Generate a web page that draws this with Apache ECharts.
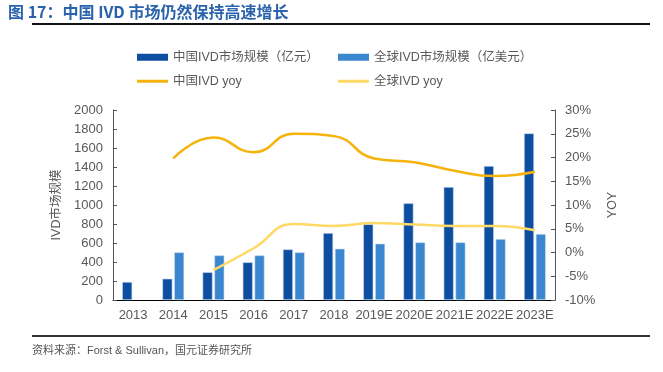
<!DOCTYPE html>
<html><head><meta charset="utf-8">
<script src="https://cdn.jsdelivr.net/npm/echarts@6/dist/echarts.min.js"></script>
<style>html,body{margin:0;padding:0;background:#fff}#c{width:663px;height:372px}</style>
</head><body><div id="c"></div>
<script>
const categories = ['2013','2014','2015','2016','2017','2018','2019E','2020E','2021E','2022E','2023E'];
const chinaMarket = [190, 224, 292, 397, 533, 705, 797, 1018, 1189, 1410, 1754];
const globalMarket = [null, 502, 470, 470, 502, 540, 593, 607, 607, 642, 695];
const chinaYoy = [null, 19.8, 24.2, 21.1, 25.0, 24.5, 19.8, 19.0, 17.2, 16.1, 17.0];
const globalYoy = [null, null, -3.7, 0.9, 6.0, 5.6, 6.2, 5.9, 5.6, 5.6, 4.7];
const leftTicks = [0, 2000, 200];
const rightTicks = [-10, 30, 5];

const FONT = '"Liberation Sans","Noto Sans CJK SC",sans-serif';
const GRAY = '#595959';
const names = ['中国IVD市场规模（亿元）','全球IVD市场规模（亿美元）','中国IVD yoy','全球IVD yoy'];
const C_DARK = '#0d4ea0', C_MID = '#3a87cf', C_LINE1 = '#f5b30c', C_LINE2 = '#ffd966';

function lg(name, left, top, isLine){
  return {data:[name], left:left, top:top, itemWidth:31, itemHeight: isLine?3:7, icon:'rect',
    itemStyle:{borderWidth:0}, textStyle:{fontFamily:FONT, fontSize:12.5, color:GRAY}, itemGap:0, padding:0};
}
const chart = echarts.init(document.getElementById('c'), null, {renderer:'canvas'});
chart.setOption({
  animation:false,
  textStyle:{fontFamily:FONT},
  legend:[lg(names[0],137,51,false), lg(names[1],338,51,false), lg(names[2],137,75,true), lg(names[3],338,75,true)],
  grid:{left:113, right:108, top:110, bottom:72},
  xAxis:{type:'category', data:categories,
    axisLine:{lineStyle:{color:'#000', width:1}},
    axisTick:{inside:true, length:4, lineStyle:{color:'#000'}},
    axisLabel:{color:GRAY, fontSize:13, margin:9, fontFamily:FONT, interval:0}},
  yAxis:[
    {type:'value', min:leftTicks[0], max:leftTicks[1], interval:leftTicks[2],
      name:'IVD市场规模', nameLocation:'middle', nameRotate:90, nameGap:38,
      nameTextStyle:{color:GRAY, fontSize:12.5, fontFamily:FONT},
      axisLine:{show:true, lineStyle:{color:'#555', width:1}},
      axisTick:{show:true, inside:true, length:4, lineStyle:{color:'#555'}},
      axisLabel:{color:GRAY, fontSize:13, margin:10, fontFamily:FONT, formatter:function(v){return String(v);}},
      splitLine:{show:false}},
    {type:'value', min:rightTicks[0], max:rightTicks[1], interval:rightTicks[2],
      name:'YOY', nameLocation:'middle', nameRotate:90, nameGap:50,
      nameTextStyle:{color:GRAY, fontSize:12.5, fontFamily:FONT},
      axisLine:{show:true, lineStyle:{color:'#555', width:1}},
      axisTick:{show:true, inside:true, length:4, lineStyle:{color:'#555'}},
      axisLabel:{color:GRAY, fontSize:13, margin:10, fontFamily:FONT, formatter:'{value}%'},
      splitLine:{show:false}},
  ],
  series:[
    {name:names[0], type:'bar', data:chinaMarket, barWidth:10, barGap:'18%',
      itemStyle:{color:C_DARK, borderColor:'#c9d9ee', borderWidth:0.6}},
    {name:names[1], type:'bar', data:globalMarket, barWidth:10,
      itemStyle:{color:C_MID, borderColor:'#d3e4f5', borderWidth:0.6}},
    {name:names[2], type:'line', yAxisIndex:1, data:chinaYoy, smooth:0.5, symbol:'none',
      lineStyle:{color:C_LINE1, width:2.5}, itemStyle:{color:C_LINE1}},
    {name:names[3], type:'line', yAxisIndex:1, data:globalYoy, smooth:0.5, symbol:'none',
      lineStyle:{color:C_LINE2, width:2.5}, itemStyle:{color:C_LINE2}}
  ],
  graphic:[
    {type:'text', left:8, top:4, style:{text:'图 17：中国 IVD 市场仍然保持高速增长', fill:'#2a63ab',
      font:'bold 16px "Noto Sans CJK SC", sans-serif'}},
    {type:'rect', shape:{x:32, y:23, width:618, height:2}, style:{fill:'#111'}},
    {type:'rect', shape:{x:32, y:335, width:618, height:2}, style:{fill:'#333'}},
    {type:'text', left:32, top:345, style:{text:'资料来源：Forst & Sullivan，国元证券研究所', fill:'#555',
      font:'11px "Liberation Sans","Noto Sans CJK SC", sans-serif'}}
  ]
});
</script></body></html>
